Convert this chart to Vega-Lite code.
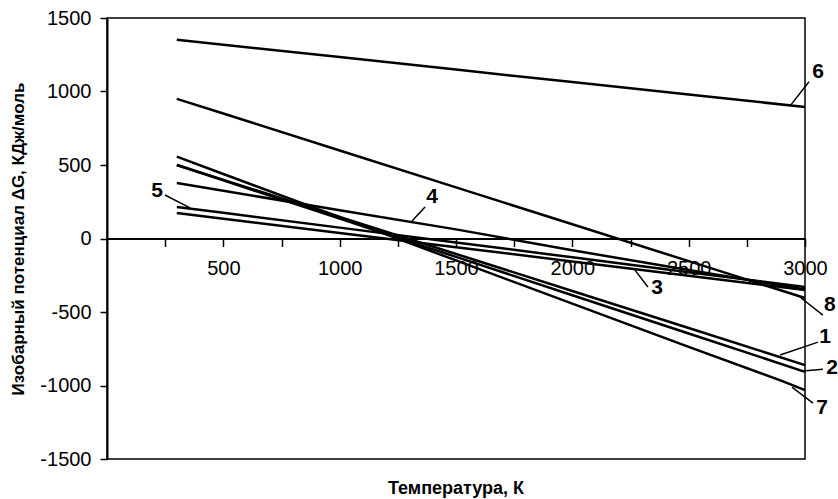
{
  "$schema": "https://vega.github.io/schema/vega-lite/v6.json",
  "width": 698,
  "height": 441,
  "autosize": {"type": "none"},
  "padding": {"left": 107, "top": 18, "right": 33, "bottom": 40},
  "background": "white",
  "title": {"text": "Температура, К", "orient": "bottom", "anchor": "middle", "fontSize": 18, "fontWeight": "bold", "font": "Liberation Sans", "offset": 11, "color": "black"},
  "config": {
    "view": {"stroke": "black", "strokeWidth": 1.5},
    "axis": {"labelFont": "Liberation Sans", "titleFont": "Liberation Sans", "labelColor": "black", "titleColor": "black", "domainColor": "black", "tickColor": "black", "grid": false}
  },
  "datasets": {
    "lines": [
      {"s": "6", "T": 300, "G": 1352}, {"s": "6", "T": 500, "G": 1318}, {"s": "6", "T": 1000, "G": 1234}, {"s": "6", "T": 1500, "G": 1149}, {"s": "6", "T": 2000, "G": 1064}, {"s": "6", "T": 2500, "G": 979}, {"s": "6", "T": 3000, "G": 895},
      {"s": "8", "T": 300, "G": 950}, {"s": "8", "T": 500, "G": 850}, {"s": "8", "T": 1000, "G": 599}, {"s": "8", "T": 1500, "G": 348}, {"s": "8", "T": 2000, "G": 97}, {"s": "8", "T": 2500, "G": -154}, {"s": "8", "T": 3000, "G": -405},
      {"s": "4", "T": 300, "G": 378}, {"s": "4", "T": 500, "G": 325}, {"s": "4", "T": 1000, "G": 192}, {"s": "4", "T": 1500, "G": 62}, {"s": "4", "T": 2000, "G": -80}, {"s": "4", "T": 2500, "G": -215}, {"s": "4", "T": 3000, "G": -346},
      {"s": "5", "T": 300, "G": 215}, {"s": "5", "T": 500, "G": 175}, {"s": "5", "T": 1000, "G": 74}, {"s": "5", "T": 1500, "G": -27}, {"s": "5", "T": 2000, "G": -128}, {"s": "5", "T": 2500, "G": -229}, {"s": "5", "T": 3000, "G": -330},
      {"s": "3", "T": 300, "G": 174}, {"s": "3", "T": 500, "G": 135}, {"s": "3", "T": 1000, "G": 38}, {"s": "3", "T": 1500, "G": -59}, {"s": "3", "T": 2000, "G": -156}, {"s": "3", "T": 2500, "G": -253}, {"s": "3", "T": 3000, "G": -350},
      {"s": "1", "T": 300, "G": 500}, {"s": "1", "T": 500, "G": 399}, {"s": "1", "T": 1000, "G": 147}, {"s": "1", "T": 1500, "G": -105}, {"s": "1", "T": 2000, "G": -357}, {"s": "1", "T": 2500, "G": -609}, {"s": "1", "T": 3000, "G": -861},
      {"s": "2", "T": 300, "G": 500}, {"s": "2", "T": 500, "G": 396}, {"s": "2", "T": 1000, "G": 135}, {"s": "2", "T": 1500, "G": -125}, {"s": "2", "T": 2000, "G": -386}, {"s": "2", "T": 2500, "G": -646}, {"s": "2", "T": 3000, "G": -907},
      {"s": "7", "T": 300, "G": 557}, {"s": "7", "T": 500, "G": 439}, {"s": "7", "T": 1000, "G": 145}, {"s": "7", "T": 1500, "G": -149}, {"s": "7", "T": 2000, "G": -443}, {"s": "7", "T": 2500, "G": -737}, {"s": "7", "T": 2900, "G": -968}, {"s": "7", "T": 3000, "G": -1032}
    ],
    "leaders": [
      {"T": 2936, "G": 902, "T2": 3017, "G2": 1066},
      {"T": 1311, "G": 119, "T2": 1367, "G2": 215},
      {"T": 249, "G": 296, "T2": 357, "G2": 208},
      {"T": 2269, "G": -215, "T2": 2325, "G2": -330},
      {"T": 2978, "G": -398, "T2": 3077, "G2": -521},
      {"T": 2893, "G": -793, "T2": 3056, "G2": -705},
      {"T": 2991, "G": -902, "T2": 3077, "G2": -889},
      {"T": 2944, "G": -1011, "T2": 3034, "G2": -1120}
    ],
    "labels": [
      {"label": "6", "T": 3056, "G": 1134},
      {"label": "4", "T": 1397, "G": 283},
      {"label": "5", "T": 215, "G": 323},
      {"label": "3", "T": 2364, "G": -337},
      {"label": "8", "T": 3107, "G": -453},
      {"label": "1", "T": 3086, "G": -671},
      {"label": "2", "T": 3116, "G": -882},
      {"label": "7", "T": 3073, "G": -1154}
    ]
  },
  "layer": [
    {
      "data": {"name": "lines"},
      "mark": {"type": "line", "color": "black", "strokeWidth": 2.5},
      "encoding": {
        "x": {"field": "T", "type": "quantitative", "scale": {"domain": [0, 3000], "nice": false, "zero": false},
          "axis": {"orient": "bottom", "offset": -220.5, "values": [250, 500, 750, 1000, 1250, 1500, 1750, 2000, 2250, 2500, 2750, 3000], "labelExpr": "datum.value % 500 === 0 ? '' + datum.value : ''", "tickSize": 8, "tickWidth": 1.5, "domainWidth": 2, "labelFontSize": 20, "labelPadding": 12, "labelFlush": false, "labelOverlap": false, "title": null}},
        "y": {"field": "G", "type": "quantitative", "scale": {"domain": [-1500, 1500], "nice": false, "zero": false},
          "axis": {"orient": "left", "values": [-1500, -1000, -500, 0, 500, 1000, 1500], "labelExpr": "datum.value < 0 ? '-' + abs(datum.value) : '' + datum.value", "tickSize": 7, "tickWidth": 1.5, "domainWidth": 2, "labelFontSize": 20, "labelPadding": 9, "labelFlush": false, "title": "Изобарный потенциал ΔG, КДж/моль", "titleFontSize": 17, "titleFontWeight": "bold", "titlePadding": 12}},
        "detail": {"field": "s", "type": "nominal"}
      }
    },
    {
      "data": {"name": "leaders"},
      "mark": {"type": "rule", "color": "black", "strokeWidth": 1.5},
      "encoding": {
        "x": {"field": "T", "type": "quantitative", "scale": {"domain": [0, 3000], "nice": false, "zero": false}},
        "y": {"field": "G", "type": "quantitative", "scale": {"domain": [-1500, 1500], "nice": false, "zero": false}},
        "x2": {"field": "T2"},
        "y2": {"field": "G2"}
      }
    },
    {
      "data": {"name": "labels"},
      "mark": {"type": "text", "color": "black", "font": "Liberation Sans", "fontSize": 21, "fontWeight": "bold", "align": "center", "baseline": "middle"},
      "encoding": {
        "x": {"field": "T", "type": "quantitative", "scale": {"domain": [0, 3000], "nice": false, "zero": false}},
        "y": {"field": "G", "type": "quantitative", "scale": {"domain": [-1500, 1500], "nice": false, "zero": false}},
        "text": {"field": "label", "type": "nominal"}
      }
    }
  ]
}
